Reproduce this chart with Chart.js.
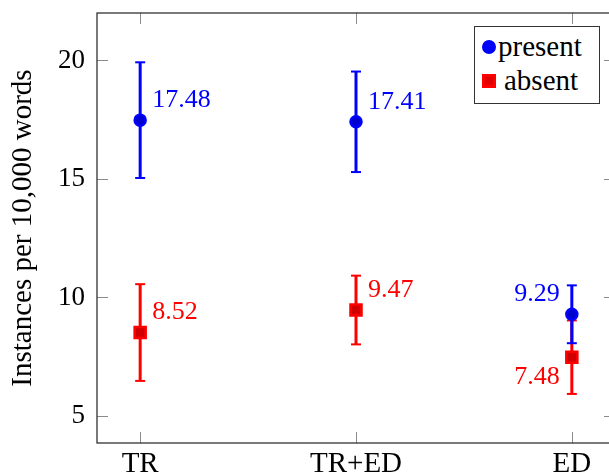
<!DOCTYPE html>
<html>
<head>
<meta charset="utf-8">
<script src="https://cdn.jsdelivr.net/npm/chart.js@4/dist/chart.umd.min.js"></script>
<style>
  html, body { margin: 0; padding: 0; overflow: hidden; background: #fff; }
  #wrap { position: absolute; left: 0; top: 0; width: 620px; height: 473px; }
  #legend {
    position: absolute; left: 474px; top: 26px; width: 124px; height: 76px;
    border: 1px solid #333; background: #fff;
    font-family: "Liberation Serif", serif; font-size: 29px; color: #000;
  }
  #legend .row { position: absolute; left: 0; height: 30px; line-height: 30px; white-space: nowrap; }
  #legend .dot { position: absolute; left: 7px; top: 9px; width: 14px; height: 14px; border-radius: 50%; background: #0000ff; }
  #legend .sq { position: absolute; left: 7px; top: 9px; width: 14px; height: 14px; background: #e00000; box-shadow: inset 0 0 0 3px #ff0000; }
</style>
</head>
<body>
<div id="wrap">
  <canvas id="chart" width="620" height="473"></canvas>
  <div id="legend">
    <div class="row" style="top:4px"><span class="dot"></span><span style="position:absolute;left:23px">present</span></div>
    <div class="row" style="top:38px"><span class="sq"></span><span style="position:absolute;left:29px">absent</span></div>
  </div>
</div>
<script>
var categories = ["TR", "TR+ED", "ED"];
var present = [17.48, 17.41, 9.29];
var presentErr = [2.44, 2.12, 1.22];
var absent = [8.52, 9.47, 7.48];
var absentErr = [2.04, 1.45, 1.55];
var yTicks = [5, 10, 15, 20];

var BLUE = "#0000ff";
var RED = "#ff0000";
var FONT = "Liberation Serif";

function points(values) {
  return values.map(function (v, i) {
    return { x: i, y: v };
  });
}

// vertical bar per category, broken with a null point
function errorLines(values, errs) {
  var out = [];
  values.forEach(function (v, i) {
    out.push({ x: i, y: v - errs[i] });
    out.push({ x: i, y: v + errs[i] });
    out.push({ x: i, y: null });
  });
  return out;
}

function errorSet(values, errs, color) {
  return {
    type: "line",
    data: errorLines(values, errs),
    borderColor: color,
    borderWidth: 3,
    showLine: true,
    spanGaps: false,
    pointStyle: "line",
    pointRadius: 5,
    pointBorderWidth: 2,
    pointBorderColor: color,
    order: 2,
  };
}

function noPad(scale) {
  scale.paddingTop = 0;
  scale.paddingBottom = 0;
  scale.paddingLeft = 0;
  scale.paddingRight = 0;
}

var frame = {
  id: "frame",
  afterDraw: function (chart) {
    var ctx = chart.ctx;
    var a = chart.chartArea;
    var x = chart.scales.x;
    var y = chart.scales.y;
    ctx.save();
    ctx.strokeStyle = "#8a8a8a";
    ctx.lineWidth = 1;
    ctx.beginPath();
    categories.forEach(function (c, i) {
      var px = Math.round(x.getPixelForValue(i)) + 0.5;
      ctx.moveTo(px, a.bottom);
      ctx.lineTo(px, a.bottom - 11);
      ctx.moveTo(px, a.top);
      ctx.lineTo(px, a.top + 11);
    });
    yTicks.forEach(function (t) {
      var py = Math.round(y.getPixelForValue(t)) + 0.5;
      ctx.moveTo(a.left, py);
      ctx.lineTo(a.left + 11, py);
      ctx.moveTo(a.right, py);
      ctx.lineTo(a.right - 11, py);
    });
    ctx.stroke();
    ctx.strokeStyle = "#333";
    ctx.lineWidth = 1.3;
    ctx.strokeRect(a.left, a.top, a.right - a.left, a.bottom - a.top);
    ctx.restore();
  },
};

var valueLabels = {
  id: "valueLabels",
  afterDatasetsDraw: function (chart) {
    var ctx = chart.ctx;
    var x = chart.scales.x;
    var y = chart.scales.y;
    ctx.save();
    ctx.font = "26px '" + FONT + "'";
    ctx.textBaseline = "middle";
    [[present, BLUE, -1], [absent, RED, 1]].forEach(function (s) {
      s[0].forEach(function (v, i) {
        var px = x.getPixelForValue(i);
        var py = y.getPixelForValue(v);
        ctx.fillStyle = s[1];
        if (i === categories.length - 1) {
          ctx.textAlign = "right";
          ctx.fillText(v.toFixed(2), px - 12, py + s[2] * 20);
        } else {
          ctx.textAlign = "left";
          ctx.fillText(v.toFixed(2), px + 12, py - 20);
        }
      });
    });
    ctx.restore();
  },
};

new Chart(document.getElementById("chart"), {
  type: "scatter",
  data: {
    datasets: [
      {
        label: "present",
        data: points(present),
        pointStyle: "circle",
        pointRadius: 5.5,
        pointBorderWidth: 2.5,
        backgroundColor: "#0000d0",
        borderColor: BLUE,
        order: 0,
      },
      {
        label: "absent",
        data: points(absent),
        pointStyle: "rect",
        pointRadius: 7.8,
        pointBorderWidth: 2.5,
        backgroundColor: "#d00000",
        borderColor: RED,
        order: 0,
      },
      errorSet(present, presentErr, BLUE),
      errorSet(absent, absentErr, RED),
    ],
  },
  options: {
    responsive: false,
    animation: false,
    layout: { autoPadding: false, padding: { top: 13, right: 5, left: 0, bottom: 0 } },
    plugins: {
      legend: { display: false },
      tooltip: { enabled: false },
    },
    scales: {
      x: {
        type: "linear",
        min: -0.2,
        max: 2.2,
        afterBuildTicks: function (scale) {
          scale.ticks = categories.map(function (c, i) {
            return { value: i };
          });
        },
        afterFit: function (scale) {
          scale.height = 30;
          noPad(scale);
        },
        grid: { display: false, drawTicks: false },
        border: { display: false },
        ticks: {
          autoSkip: false,
          maxRotation: 0,
          padding: 4,
          color: "#000",
          font: { family: FONT, size: 29 },
          callback: function (v) {
            return categories[v];
          },
        },
      },
      y: {
        min: 3.86,
        max: 22.0,
        afterBuildTicks: function (scale) {
          scale.ticks = yTicks.map(function (t) {
            return { value: t };
          });
        },
        afterFit: function (scale) {
          scale.width = 97;
          noPad(scale);
        },
        grid: { display: false, drawTicks: false },
        border: { display: false },
        ticks: {
          padding: 12,
          color: "#000",
          font: { family: FONT, size: 27 },
        },
        title: {
          display: true,
          text: "Instances per 10,000 words",
          color: "#000",
          font: { family: FONT, size: 29 },
          padding: { top: 6, bottom: 0 },
        },
      },
    },
  },
  plugins: [frame, valueLabels],
});
</script>
</body>
</html>
